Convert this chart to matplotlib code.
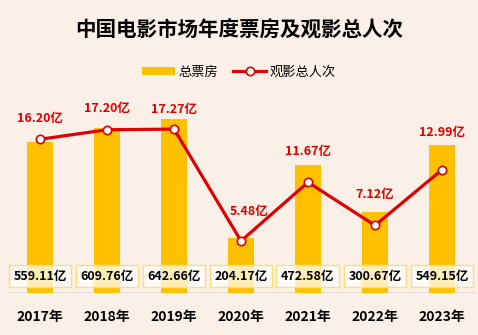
import matplotlib
matplotlib.use('Agg')
import matplotlib.pyplot as plt
import matplotlib.transforms as mtransforms

plt.rcParams['font.family'] = ['Noto Sans CJK SC', 'DejaVu Sans']

years = ['2017年', '2018年', '2019年', '2020年', '2021年', '2022年', '2023年']
box_office = [559.11, 609.76, 642.66, 204.17, 472.58, 300.67, 549.15]   # 亿元
audience = [16.20, 17.20, 17.27, 5.48, 11.67, 7.12, 12.99]              # 亿人次

# label offsets from the line points (points)
label_dx = [0, 0, 0, 6, 0, 0, 0]
label_dy = [15, 15, 14, 21, 22, 22, 27]

bg = '#FBF0E8'
yellow = '#FFC000'
red = '#E00000'

fig = plt.figure(figsize=(4.78, 3.35), dpi=100, facecolor=bg)
ax = fig.add_axes([6.5 / 478, 42 / 335, 469 / 478, 193 / 335])
ax.set_facecolor(bg)
ax2 = ax.twinx()

x = list(range(len(years)))
ax.bar(x, box_office, width=0.4, color=yellow, zorder=2, label='总票房')
ax.set_xlim(-0.5, len(years) - 0.5)
ax.set_ylim(0, 193 / 0.27)

ax2.plot(x, audience, color=red, lw=2.3, marker='o', ms=6, mfc='white',
         mec=red, mew=1.2, zorder=4, label='观影总人次')
ax2.set_ylim(0, 193 / 9.49)

for a in (ax, ax2):
    for s in a.spines.values():
        s.set_visible(False)
    a.set_yticks([])
ax.tick_params(axis='x', length=0, pad=12)
ax.set_xticks(x)
ax.set_xticklabels(years, fontsize=10, fontweight='bold')
ax.axhline(0, color='#E2DAD3', lw=2, zorder=1)

# boxed box-office values near the baseline
trans = mtransforms.blended_transform_factory(ax.transData, ax.transAxes)
for xi, v in zip(x, box_office):
    ax2.text(xi, 0.088, f'{v:.2f}亿', transform=trans, ha='center', va='center',
             fontsize=9, fontweight='bold', color='black', zorder=5,
             bbox=dict(boxstyle='square,pad=0.38', fc=(1, 1, 1, 0.72),
                       ec='#FFDE7A', lw=1))

# audience labels
for xi, v, dx, dy in zip(x, audience, label_dx, label_dy):
    ax2.annotate(f'{v:.2f}亿', (xi, v), xytext=(dx, dy), textcoords='offset points',
                 ha='center', va='center', fontsize=9, fontweight='bold',
                 color=red, zorder=6)

fig.text(0.5, 1 - 30 / 335, '中国电影市场年度票房及观影总人次', ha='center',
         va='center', fontsize=14.8, fontweight='bold', color='black')

h1, l1 = ax.get_legend_handles_labels()
h2, l2 = ax2.get_legend_handles_labels()
fig.legend(h1 + h2, l1 + l2, loc='center', bbox_to_anchor=(0.5, 1 - 72 / 335),
           ncol=2, frameon=False, fontsize=9.5, handlelength=2.5,
           handleheight=0.5, columnspacing=1.1, handletextpad=0.3)

fig.savefig('out.png', dpi=100, facecolor=bg)
